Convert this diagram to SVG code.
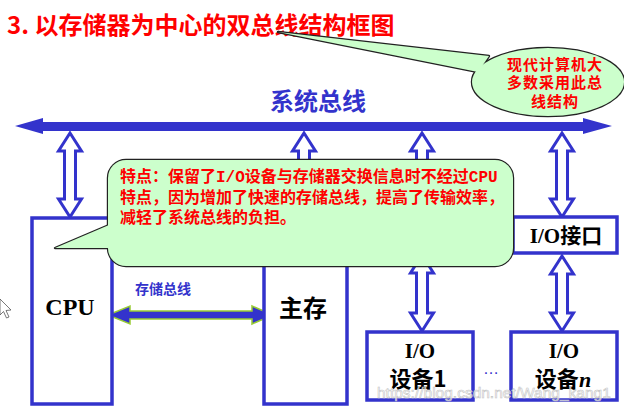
<svg xmlns="http://www.w3.org/2000/svg" width="624" height="412" viewBox="0 0 624 412">
<defs>
<style>
.box{fill:#fff;stroke:#3333cc;stroke-width:3.5}
.hollow{fill:#fff;stroke:#3333cc;stroke-width:3;stroke-linejoin:miter}
.cj{font-family:"Noto Sans CJK SC",sans-serif;font-weight:bold}
.lbl{font-family:"Liberation Serif","Noto Sans CJK SC",serif;font-weight:bold;fill:#000}
.red{fill:#ff0000}
.blue{fill:#3333cc}
.bubStroke{fill:none;stroke:#222;stroke-width:2.4;stroke-linejoin:round}
.bubFill{fill:#ccffcc;stroke:none}
</style>
</defs>
<rect width="624" height="412" fill="#fff"/>

<g id="title">
<text x="7" y="34" class="cj red" font-size="24">3. 以存储器为中心的双总线结构框图</text>
</g>

<g id="note-ellipse">
<polygon class="bubStroke" points="278,32 489,56 478,72"/>
<ellipse class="bubStroke" cx="548" cy="82" rx="76" ry="34"/>
<polygon class="bubFill" points="278,32 489,56 478,72"/>
<ellipse class="bubFill" cx="548" cy="82" rx="76" ry="34"/>
<g class="cj red" font-size="15" text-anchor="middle" letter-spacing="1">
<text x="555" y="70">现代计算机大</text>
<text x="555" y="88">多数采用此总</text>
<text x="555" y="107">线结构</text>
</g>
</g>

<g id="bus-label">
<text x="318" y="110" class="cj blue" font-size="24" text-anchor="middle">系统总线</text>
</g>

<g id="connectors">
<polygon id="system-bus" fill="#3333cc" points="15,126 43,118 43,122 583,122 583,118 612,126 583,134 583,131 43,131 43,134"/>
<polygon class="hollow" points="70,133 81.5,151 75.5,151 75.5,199 81.5,199 70,217 58.5,199 64.5,199 64.5,151 58.5,151"/>
<polygon class="hollow" points="304,133 315.5,151 309.5,151 309.5,199 315.5,199 304,217 292.5,199 298.5,199 298.5,151 292.5,151"/>
<polygon class="hollow" points="422,133 433.5,151 427.5,151 427.5,199 433.5,199 422,217 410.5,199 416.5,199 416.5,151 410.5,151"/>
<polygon class="hollow" points="562,133 573.5,151 567.5,151 567.5,199 573.5,199 562,217 550.5,199 556.5,199 556.5,151 550.5,151"/>
<polygon class="hollow" points="422,255 433.5,273 427.5,273 427.5,313 433.5,313 422,331 410.5,313 416.5,313 416.5,273 410.5,273"/>
<polygon class="hollow" points="562,256 573.5,274 567.5,274 567.5,313 573.5,313 562,331 550.5,313 556.5,313 556.5,274 550.5,274"/>
<polygon id="memory-bus" fill="#3333cc" stroke="#99cc33" stroke-width="1.5" points="108,315 130,306 130,311 252,311 252,306 273,315 252,324 252,319 130,319 130,324"/>
<text x="135" y="294" class="cj blue" font-size="14">存储总线</text>
<text x="491" y="374" fill="#3333cc" font-family="Liberation Sans,sans-serif" font-size="16" text-anchor="middle">…</text>
</g>

<g id="cpu">
<rect class="box" x="32" y="218" width="80" height="186"/>
<text x="70" y="315" class="lbl" font-size="24" text-anchor="middle">CPU</text>
</g>

<g id="memory">
<rect class="box" x="264" y="218" width="83" height="186"/>
<text x="303" y="317" class="cj" font-size="24" text-anchor="middle" fill="#000">主存</text>
</g>

<g id="io-interface">
<rect class="box" x="513" y="217" width="104" height="36"/>
<text x="566" y="243" class="lbl" font-size="21" text-anchor="middle">I/O<tspan class="cj">接口</tspan></text>
</g>

<g id="io-device-1">
<rect class="box" x="367" y="332" width="106" height="68"/>
<text x="420" y="358" class="lbl" font-size="21" text-anchor="middle">I/O</text>
<text x="418" y="387" class="cj" font-size="22" text-anchor="middle" fill="#000">设备1</text>
</g>

<g id="io-device-n">
<rect class="box" x="511" y="332" width="106" height="68"/>
<text x="564" y="358" class="lbl" font-size="21" text-anchor="middle">I/O</text>
<text x="563" y="387" font-size="22" text-anchor="middle" fill="#000"><tspan class="cj">设备</tspan><tspan font-family="Liberation Serif,serif" font-style="italic" font-weight="bold">n</tspan></text>
</g>

<g id="note-feature">
<rect class="bubStroke" x="108" y="160" width="405" height="106" rx="18" ry="18"/>
<polygon class="bubStroke" points="116,222 55,248 116,248"/>
<rect class="bubFill" x="108" y="160" width="405" height="106" rx="18" ry="18"/>
<polygon class="bubFill" points="116,222 55,248 116,248"/>
<g font-family="Liberation Mono,Noto Sans CJK SC,monospace" font-weight="bold" font-size="16" fill="#ff0000">
<text x="120" y="182">特点：保留了I/O设备与存储器交换信息时不经过CPU</text>
<text x="120" y="203">特点，因为增加了快速的存储总线，提高了传输效率，</text>
<text x="120" y="223">减轻了系统总线的负担。</text>
</g>
</g>

<g id="watermark">
<text x="377" y="398" font-family="Liberation Sans,sans-serif" font-size="15.5" fill="#ffffff" fill-opacity="0.7" stroke="#c4c4c4" stroke-width="0.6">https://blog.csdn.net/Wang_kang1</text>
</g>

<g id="cursor">
<path d="M0,299 L11,310 L6,310.5 L9,317 L6.5,318 L3.5,311.5 L0,315 Z" fill="#fff" stroke="#555" stroke-width="0.8"/>
</g>
</svg>
